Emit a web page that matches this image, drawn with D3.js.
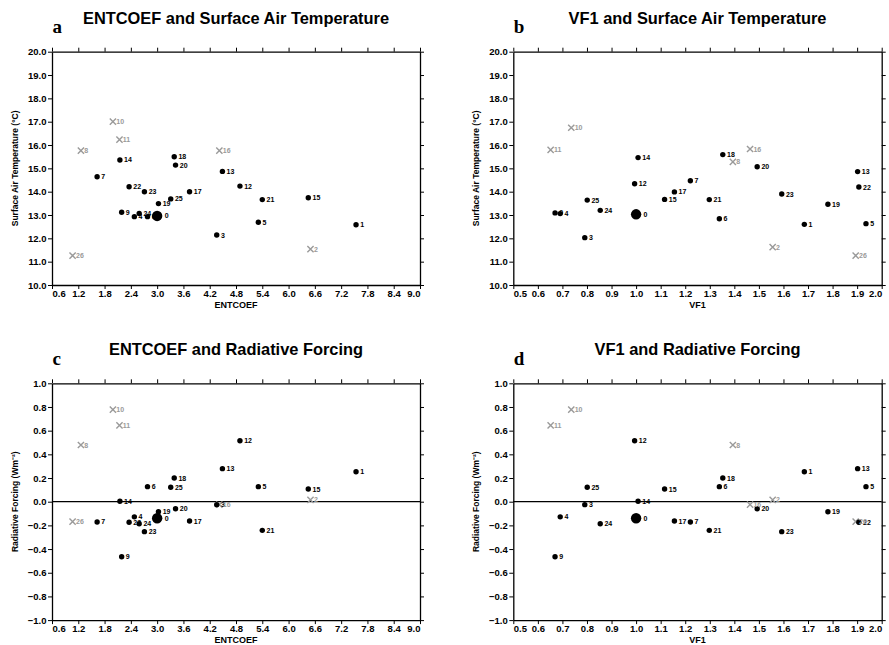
<!DOCTYPE html>
<html>
<head>
<meta charset="utf-8">
<script src="https://cdn.jsdelivr.net/npm/d3@7"></script>
<style>
  body { margin: 0; background: #fff; }
  svg { display: block; font-family: "Liberation Sans", Arial, Helvetica, sans-serif; }
</style>
</head>
<body>
<svg id="fig" width="889" height="645"></svg>
<script>
// Ensemble members (0 = standard configuration)
const members  = [0, 1, 2, 3, 4, 5, 6, 7, 8, 9, 10, 11, 12, 13, 14, 15, 16, 17, 18, 19, 20, 21, 22, 23, 24, 25, 26];
const entcoef  = [3.00, 7.54, 6.50, 4.36, 2.48, 5.31, 2.78, 1.63, 1.26, 2.19, 1.99, 2.14, 4.89, 4.49, 2.15, 6.45, 4.42, 3.74, 3.39, 3.03, 3.42, 5.40, 2.36, 2.71, 2.59, 3.31, 1.07];
const vf1      = [1.000, 1.685, 1.556, 0.791, 0.691, 1.936, 1.339, 1.221, 1.394, 0.670, 0.736, 0.652, 0.994, 1.902, 1.008, 1.116, 1.464, 1.156, 1.353, 1.781, 1.493, 1.298, 1.907, 1.593, 0.854, 0.801, 1.894];
// Global mean surface air temperature (°C) in each scatter
const tasEnt   = [12.96, 12.58, 11.54, 12.14, 12.93, 12.69, 12.93, 14.64, 15.76, 13.12, 17.00, 16.23, 14.24, 14.87, 15.36, 13.74, 15.76, 14.00, 15.50, 13.49, 15.14, 13.66, 14.21, 14.00, 13.07, 13.69, 11.26];
const tasVf1   = [13.03, 12.60, 11.62, 12.03, 13.06, 12.63, 12.84, 14.47, 15.28, 13.09, 16.74, 15.79, 14.34, 14.86, 15.46, 13.67, 15.83, 13.99, 15.59, 13.46, 15.07, 13.66, 14.20, 13.90, 13.20, 13.64, 11.26];
// Radiative forcing (W m-2)
const forcing  = [-0.140, 0.253, 0.015, -0.025, -0.128, 0.127, 0.127, -0.171, 0.479, -0.465, 0.777, 0.645, 0.515, 0.279, 0.004, 0.107, -0.025, -0.163, 0.200, -0.085, -0.059, -0.242, -0.174, -0.253, -0.186, 0.122, -0.168];
// Members drawn as grey crosses
const rejected = [2, 8, 10, 11, 16, 26];

const entTicks = [0.6, 1.2, 1.8, 2.4, 3.0, 3.6, 4.2, 4.8, 5.4, 6.0, 6.6, 7.2, 7.8, 8.4, 9.0];
const vfTicks  = [0.5, 0.6, 0.7, 0.8, 0.9, 1.0, 1.1, 1.2, 1.3, 1.4, 1.5, 1.6, 1.7, 1.8, 1.9, 2.0];
const tasTicks = [10, 11, 12, 13, 14, 15, 16, 17, 18, 19, 20];
const rfTicks  = [-1.0, -0.8, -0.6, -0.4, -0.2, 0.0, 0.2, 0.4, 0.6, 0.8, 1.0];

const GREY = "#9a9a9a";
const svg = d3.select("#fig");

const panels = [
  { letter: "a", title: "ENTCOEF and Surface Air Temperature", xs: entcoef, ys: tasEnt,
    xTicks: entTicks, yTicks: tasTicks, xTitle: "ENTCOEF", yTitle: "Surface Air Temperature (\u00B0C)",
    box: [52, 51.7, 420, 285], zero: false },
  { letter: "b", title: "VF1 and Surface Air Temperature", xs: vf1, ys: tasVf1,
    xTicks: vfTicks, yTicks: tasTicks, xTitle: "VF1", yTitle: "Surface Air Temperature (\u00B0C)",
    box: [513.3, 51.7, 881.7, 285], zero: false },
  { letter: "c", title: "ENTCOEF and Radiative Forcing", xs: entcoef, ys: forcing,
    xTicks: entTicks, yTicks: rfTicks, xTitle: "ENTCOEF", yTitle: "Radiative Forcing (Wm\u207B\u00B2)",
    box: [52, 383.3, 420, 620.1], zero: true },
  { letter: "d", title: "VF1 and Radiative Forcing", xs: vf1, ys: forcing,
    xTicks: vfTicks, yTicks: rfTicks, xTitle: "VF1", yTitle: "Radiative Forcing (Wm\u207B\u00B2)",
    box: [513.3, 383.3, 881.7, 620.1], zero: true }
];

panels.forEach(p => {
  const [x0, y0, x1, y1] = p.box;
  const x = d3.scaleLinear().domain(d3.extent(p.xTicks)).range([x0, x1]);
  const y = d3.scaleLinear().domain(d3.extent(p.yTicks)).range([y1, y0]);
  const g = svg.append("g");
  const fmt = d3.format(".1f");

  // axes on all four sides, ticks pointing outward
  const styleAxis = sel => {
    sel.selectAll(".domain").attr("stroke", "#000").attr("stroke-width", 1.3);
    sel.selectAll(".tick line").attr("stroke", "#000").attr("stroke-width", 1);
    sel.selectAll(".tick text").attr("fill", "#000")
      .attr("font-size", 9.5).attr("font-weight", "bold");
  };
  const bottom = g.append("g").attr("transform", `translate(0,${y1})`)
    .call(d3.axisBottom(x).tickValues(p.xTicks).tickFormat(fmt).tickSize(4).tickSizeOuter(0).tickPadding(1.5))
    .call(styleAxis);
  bottom.selectAll(".tick text")
    .attr("text-anchor", (d, i, n) => i === 0 ? "start" : (i === n.length - 1 ? "end" : "middle"));
  g.append("g").attr("transform", `translate(0,${y0})`)
    .call(d3.axisTop(x).tickValues(p.xTicks).tickFormat("").tickSize(4).tickSizeOuter(0))
    .call(styleAxis);
  g.append("g").attr("transform", `translate(${x0},0)`)
    .call(d3.axisLeft(y).tickValues(p.yTicks).tickFormat(fmt).tickSize(4).tickSizeOuter(0).tickPadding(1.5))
    .call(styleAxis);
  g.append("g").attr("transform", `translate(${x1},0)`)
    .call(d3.axisRight(y).tickValues(p.yTicks).tickFormat("").tickSize(4).tickSizeOuter(0))
    .call(styleAxis);

  if (p.zero) {
    g.append("line").attr("x1", x0).attr("x2", x1).attr("y1", y(0)).attr("y2", y(0))
      .attr("stroke", "#000").attr("stroke-width", 1.2);
  }

  // titles
  const cx = (x0 + x1) / 2;
  g.append("text").attr("x", cx).attr("y", y0 - 28).attr("text-anchor", "middle")
    .attr("font-size", 16.4).attr("font-weight", "bold").text(p.title);
  g.append("text").attr("x", x0 + 0.5).attr("y", y0 - 18.5)
    .attr("font-family", "'Liberation Serif', 'Times New Roman', serif")
    .attr("font-size", 19).attr("font-weight", "bold").text(p.letter);
  g.append("text").attr("x", cx).attr("y", y1 + 22.5).attr("text-anchor", "middle")
    .attr("font-size", 9).attr("font-weight", "bold").text(p.xTitle);
  g.append("text")
    .attr("transform", `translate(${x0 - 37},${(y0 + y1) / 2}) rotate(-90)`)
    .attr("text-anchor", "middle").attr("dy", "0.35em")
    .attr("font-size", 8.5).attr("font-weight", "bold").text(p.yTitle);

  // markers
  const pts = members.map((m, i) => ({ id: m, px: x(p.xs[i]), py: y(p.ys[i]), grey: rejected.includes(m) }));
  const cross = 3.1;
  pts.filter(d => d.grey).forEach(d => {
    g.append("path")
      .attr("d", `M${d.px - cross},${d.py - cross}L${d.px + cross},${d.py + cross}M${d.px - cross},${d.py + cross}L${d.px + cross},${d.py - cross}`)
      .attr("stroke", GREY).attr("stroke-width", 1.4).attr("fill", "none");
  });
  pts.filter(d => !d.grey).forEach(d => {
    g.append("circle").attr("cx", d.px).attr("cy", d.py)
      .attr("r", d.id === 0 ? 5.2 : 2.7).attr("fill", "#000");
  });
  pts.forEach(d => {
    const off = d.id === 0 ? 7.5 : (d.grey ? 3.4 : 4.2);
    g.append("text").attr("x", d.px + off).attr("y", d.py).attr("dy", "0.36em")
      .attr("font-size", 7).attr("font-weight", "bold")
      .attr("fill", d.grey ? GREY : "#000").text(d.id);
  });
});
</script>
</body>
</html>
